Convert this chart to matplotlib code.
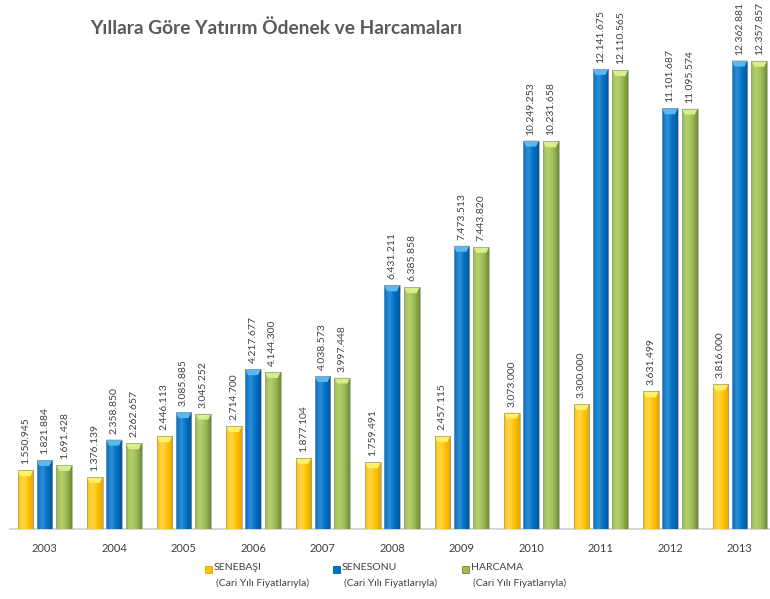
import matplotlib
matplotlib.use("Agg")
import matplotlib.pyplot as plt
import numpy as np
from matplotlib.colors import LinearSegmentedColormap
from matplotlib.patches import Polygon, Rectangle

years = ["2003", "2004", "2005", "2006", "2007", "2008", "2009", "2010", "2011", "2012", "2013"]
senebasi = [1550945, 1376139, 2446113, 2714700, 1877104, 1759491, 2457115, 3073000, 3300000, 3631499, 3816000]
senesonu = [1821884, 2358850, 3085885, 4217677, 4038573, 6431211, 7473513, 10249253, 12141675, 11101687, 12362881]
harcama = [1691428, 2262657, 3045252, 4144300, 3997448, 6385858, 7443820, 10231658, 12110565, 11095574, 12357857]
series_names = ["SENEBAŞI", "SENESONU", "HARCAMA"]
series_sub = "(Cari Yılı Fiyatlarıyla)"
title = "Yıllara Göre Yatırım Ödenek ve Harcamaları"

plt.rcParams['font.family'] = ['Lato', 'DejaVu Sans']

W, H = 770, 599
fig = plt.figure(figsize=(W / 100, H / 100), dpi=100)
base_px = 529
ax = fig.add_axes([10 / W, (H - base_px) / H, (770 - 10) / W, base_px / H])
ymax = 13.96e6
ax.set_ylim(0, ymax)
ax.set_xlim(-0.496, 10.439)
px_per_unit = base_px / ymax

styles = [
    dict(dark="#E0A800", mid="#FFC000", light="#FFD84A", cap="#FFF066"),
    dict(dark="#0058A0", mid="#0070C0", light="#2E8FD8", cap="#5BB8F0"),
    dict(dark="#6E8A2E", mid="#9BBB59", light="#B5D06A", cap="#D8EE8A"),
]
offsets = [-0.275, 0.0, 0.285]
bw = 0.225
x = np.arange(len(years))

for s_i, (vals, st) in enumerate(zip([senebasi, senesonu, harcama], styles)):
    cmap = LinearSegmentedColormap.from_list("g", [st["mid"], st["light"], st["mid"], st["dark"]])
    grad = np.linspace(0, 1, 64).reshape(1, -1)
    bars = ax.bar(x + offsets[s_i], vals, width=bw, color=st["mid"], edgecolor="none", zorder=2)
    for b, v in zip(bars, vals):
        x0 = b.get_x()
        im = ax.imshow(grad, cmap=cmap, extent=[x0, x0 + bw, 0, v], aspect="auto", zorder=3,
                       interpolation="bicubic")
        im.set_clip_path(b)
        capH = 6 / px_per_unit
        inset = bw * 0.18
        cap = Polygon([[x0, v], [x0 + bw, v], [x0 + bw - inset, v - capH], [x0 + inset, v - capH]],
                      closed=True, facecolor=st["cap"], edgecolor="none", zorder=4)
        ax.add_patch(cap)
        edge = Rectangle((x0, 0), bw, v, fill=False, edgecolor="#9a9a9a", linewidth=0.5, zorder=5)
        ax.add_patch(edge)
        lab = f"{v:,}".replace(",", ".")
        ax.text(x0 + bw / 2, v + 6 / px_per_unit, lab, rotation=90, ha="center", va="bottom",
                fontsize=7.5, color="#404040", zorder=6)

ax.set_xticks(x)
ax.set_xticklabels(years, fontsize=8, color="#404040")
ax.tick_params(axis="x", length=0, pad=10)
ax.set_yticks([])
for sp in ["top", "right", "left"]:
    ax.spines[sp].set_visible(False)
ax.spines["bottom"].set_color("#D0D0D0")
ax.spines["bottom"].set_linewidth(1.2)
ax.set_facecolor("none")

fig.text(90 / W, 1 - 28 / H, title, fontsize=13.8, fontweight="bold", color="#595959",
         ha="left", va="center")

# legend
leg_x = [205, 333, 462]
for i, (name, st) in enumerate(zip(series_names, styles)):
    lx = leg_x[i]
    fig.patches.append(Rectangle((lx / W, 1 - 573 / H), 7 / W, 7 / H, transform=fig.transFigure,
                                 facecolor=st["mid"], edgecolor=st["dark"], linewidth=0.6))
    fig.text((lx + 9) / W, 1 - 568 / H, name, fontsize=7.5, color="#404040", ha="left", va="center")
    fig.text((lx + 11) / W, 1 - 583 / H, series_sub, fontsize=7.5, color="#404040", ha="left", va="center")

fig.savefig("out.png", dpi=100)
